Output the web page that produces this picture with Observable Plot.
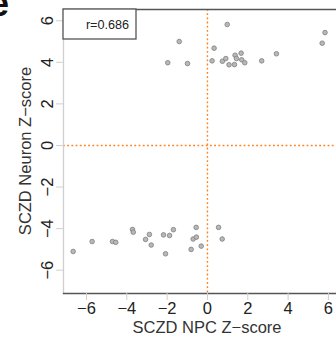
<!DOCTYPE html>
<html>
<head>
<meta charset="utf-8">
<script src="https://cdn.jsdelivr.net/npm/d3@7"></script>
<script src="https://cdn.jsdelivr.net/npm/@observablehq/plot@0.6"></script>
<style>
  html, body { margin: 0; padding: 0; background: #fff; }
  #chart { position: relative; width: 336px; height: 339px; overflow: hidden; }
  svg { font-family: "Liberation Sans", Arial, sans-serif; }
</style>
</head>
<body>
<div id="chart"></div>
<script>
// Upper cluster (NPC Z, Neuron Z)
const upperNPC    = [-1.97, -1.40, -0.99, 0.23, 0.33, 0.98, 0.74, 0.91, 1.07, 1.34, 1.37, 1.44, 1.67, 1.70, 1.85, 2.69, 3.42, 5.69, 5.83];
const upperNeuron = [ 3.98,  5.00,  3.94, 4.07, 4.68, 5.82, 4.05, 4.18, 3.88, 3.89, 4.34, 4.18, 4.44, 4.12, 3.98, 4.07, 4.41, 4.92, 5.43];
// Lower cluster
const lowerNPC    = [-6.66, -5.72, -4.71, -4.55, -3.72, -3.68, -3.07, -2.88, -2.79, -2.18, -1.88, -2.08, -1.69, -0.81, -0.71, -0.56, -0.55, -0.31, 0.55, 0.73];
const lowerNeuron = [-5.10, -4.62, -4.62, -4.66, -4.04, -4.17, -4.52, -4.28, -4.79, -4.30, -4.33, -5.21, -4.05, -5.00, -4.50, -3.94, -4.41, -4.84, -3.94, -4.50];

const xTicks = [-6, -4, -2, 0, 2, 4, 6];
const yTicks = [-6, -4, -2, 0, 2, 4, 6];
const xLabel = "SCZD NPC Z\u2212score";
const yLabel = "SCZD Neuron Z\u2212score";
const legendText = "r=0.686";
const panelLetter = "e";
const refLines = [0];

const points = [
  ...upperNPC.map((x, i) => ({x, y: upperNeuron[i]})),
  ...lowerNPC.map((x, i) => ({x, y: lowerNeuron[i]}))
];

const W = 336, H = 339;
const mL = 63, mT = 9, mB = 46, mR = 0;

const plot = Plot.plot({
  width: W,
  height: H,
  marginLeft: mL,
  marginTop: mT,
  marginBottom: mB,
  marginRight: mR,
  style: {fontFamily: "Liberation Sans, Arial, sans-serif", background: "white", overflow: "visible"},
  x: {domain: [-7.14, 6.40]},
  y: {domain: [-7.12, 6.54]},
  marks: [
    Plot.ruleX(refLines, {stroke: "#ff7f1a", strokeWidth: 1.4, strokeDasharray: "1.8,2.4"}),
    Plot.ruleY(refLines, {stroke: "#ff7f1a", strokeWidth: 1.4, strokeDasharray: "1.8,2.4"}),
    Plot.frame({anchor: "left", stroke: "#cfcfcf", strokeWidth: 1.3}),
    Plot.frame({anchor: "top", stroke: "#555", strokeWidth: 1.3}),
    Plot.frame({anchor: "bottom", stroke: "#555", strokeWidth: 1.3}),
    Plot.axisX({ticks: xTicks, tickSize: 7, tickPadding: 2, stroke: "#cfcfcf", fill: "#222", fontSize: 16.5, label: null}),
    Plot.axisY({ticks: yTicks, tickSize: 7, tickPadding: 4, tickRotate: -90, stroke: "#cfcfcf", fill: "#222", fontSize: 16.5, label: null}),
    Plot.dot(points, {x: "x", y: "y", r: 2.3, fill: "#b8b8b8", stroke: "#7d7d7d", strokeWidth: 0.8})
  ]
});

document.getElementById("chart").appendChild(plot);

const svg = d3.select(plot);
// axis titles
svg.append("text")
  .attr("x", 207).attr("y", 333)
  .attr("text-anchor", "middle")
  .attr("font-size", 16.5).attr("fill", "#333")
  .text(xLabel);
svg.append("text")
  .attr("transform", "translate(31,151) rotate(-90)")
  .attr("text-anchor", "middle")
  .attr("font-size", 16.5).attr("fill", "#333")
  .text(yLabel);
// legend box
svg.append("rect")
  .attr("x", 63).attr("y", 9).attr("width", 73).attr("height", 30)
  .attr("fill", "white").attr("stroke", "#555").attr("stroke-width", 1.3);
svg.append("text")
  .attr("x", 129).attr("y", 29)
  .attr("text-anchor", "end")
  .attr("font-size", 12.6).attr("fill", "#222")
  .text(legendText);
// panel letter (cut at the top edge as in the reference)
svg.append("text")
  .attr("x", -1).attr("y", 16)
  .attr("font-size", 36).attr("font-weight", "bold").attr("fill", "#111")
  .text(panelLetter);
</script>
</body>
</html>
